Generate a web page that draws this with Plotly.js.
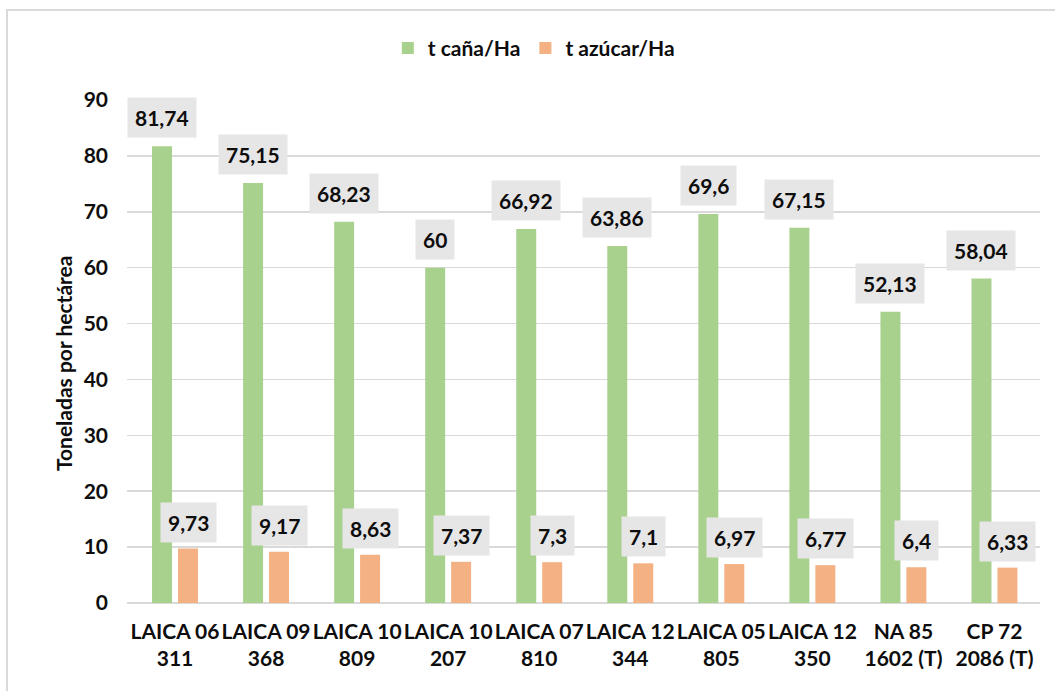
<!DOCTYPE html>
<html>
<head>
<meta charset="utf-8">
<script src="https://cdn.plot.ly/plotly-3.0.1.min.js"></script>
<style>
html,body{margin:0;padding:0;background:#fff;}
#wrap{position:relative;width:1055px;height:691px;}
#chart{width:1055px;height:691px;}
#frame{position:absolute;left:6px;top:9px;width:1100px;height:800px;border-left:2px solid #d9d9d9;border-top:2px solid #d9d9d9;pointer-events:none;}
</style>
</head>
<body>
<div id="wrap"><div id="chart"></div><div id="frame"></div></div>
<script>
const categories = ["LAICA 06<br>311","LAICA 09<br>368","LAICA 10<br>809","LAICA 10<br>207","LAICA 07<br>810","LAICA 12<br>344","LAICA 05<br>805","LAICA 12<br>350","NA 85<br>1602 (T)","CP 72<br>2086 (T)"];
const cana = [81.74, 75.15, 68.23, 60, 66.92, 63.86, 69.6, 67.15, 52.13, 58.04];
const azucar = [9.73, 9.17, 8.63, 7.37, 7.3, 7.1, 6.97, 6.77, 6.4, 6.33];
const seriesNames = ["t caña/Ha", "t azúcar/Ha"];
const colors = ["#a9d18e", "#f4b183"];

const fontFam = "Lato, 'Open Sans', sans-serif";
const W = 'bold';
const fmt = v => String(v).replace('.', ',');

const traces = [
  {type:'bar', name:seriesNames[0], x:categories, y:cana, marker:{color:colors[0]}, hoverinfo:'none'},
  {type:'bar', name:seriesNames[1], x:categories, y:azucar, marker:{color:colors[1]}, hoverinfo:'none'}
];

const annotations = [];
function addLabels(vals, shift, yshift){
  vals.forEach((v,i)=>{
    annotations.push({
      x: categories[i], y: v, xref:'x', yref:'y',
      text: fmt(v), showarrow:false, xanchor:'center', yanchor:'bottom',
      xshift: shift, yshift: yshift,
      bgcolor:'#e7e6e6', borderpad:7,
      font:{family:fontFam, size:21, color:'#0d0d0d', weight:W}
    });
  });
}
addLabels(cana, -13, 8);
addLabels(azucar, 13, 6);
annotations.push({
  xref:'paper', yref:'paper', x:(63-127)/913, y:0.477, text:'Toneladas por hectárea',
  textangle:-90, showarrow:false, xanchor:'center', yanchor:'middle',
  font:{family:fontFam, size:21, color:'#0d0d0d', weight:W}
});

const layout = {
  width:1055, height:691,
  margin:{l:127, r:15, t:100, b:88},
  paper_bgcolor:'#fff', plot_bgcolor:'#fff',
  barmode:'group', bargap:0.43, bargroupgap:0.23,
  showlegend:true,
  legend:{orientation:'h', x:0.506, xref:'container', xanchor:'center', y:0.93, yref:'container', yanchor:'middle',
          font:{family:fontFam, size:21, color:'#0d0d0d', weight:W}, itemwidth:20, traceorder:'normal'},
  xaxis:{type:'category', tickangle:0, tickfont:{family:fontFam, size:21, color:'#0d0d0d', weight:W},
         showgrid:false, showline:false, ticks:'', zeroline:false, ticklabelstandoff:14},
  yaxis:{range:[0,90], dtick:10, tickfont:{family:fontFam, size:21, color:'#0d0d0d', weight:W},
         showgrid:true, gridcolor:'#d9d9d9', gridwidth:1.5, zeroline:true, zerolinecolor:'#d9d9d9', zerolinewidth:1.5,
         showline:false, ticks:'', ticklabelstandoff:18},
  annotations: annotations
};

Plotly.newPlot('chart', traces, layout, {displayModeBar:false, staticPlot:true});
</script>
</body>
</html>
